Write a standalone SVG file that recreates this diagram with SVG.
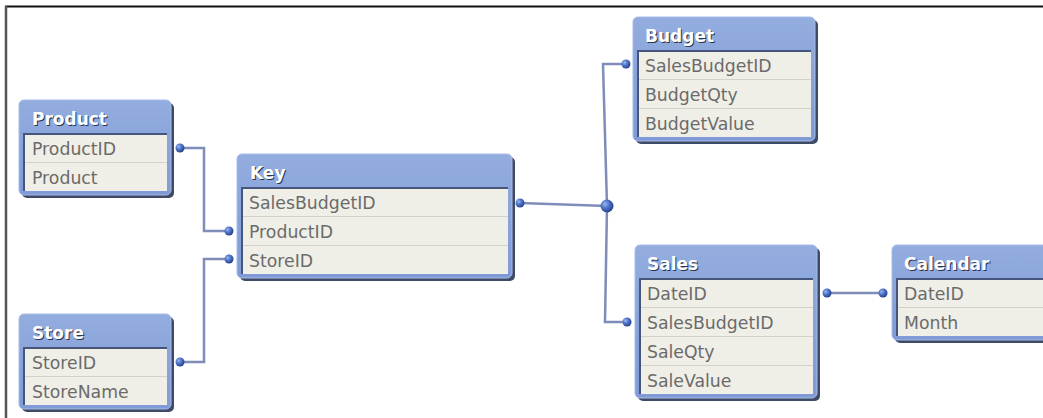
<svg xmlns="http://www.w3.org/2000/svg" width="1043" height="418" viewBox="0 0 1043 418">
<defs>
<linearGradient id="hdr" x1="0" y1="0" x2="0" y2="1">
<stop offset="0" stop-color="#93addf"/>
<stop offset="1" stop-color="#7f9ad6"/>
</linearGradient>
<radialGradient id="ball" cx="0.35" cy="0.35" r="0.7">
<stop offset="0" stop-color="#9db8f0"/>
<stop offset="0.45" stop-color="#4f74c8"/>
<stop offset="1" stop-color="#23408a"/>
</radialGradient>
</defs>
<style>
.sh{fill:#3e4a66}
.main{fill:url(#hdr);stroke:#a7bbe6;stroke-width:1}
.panel{fill:#f0efe7}
.inset{stroke:#45557c;stroke-width:2;fill:none}
.div{stroke:#d2d2ca;stroke-width:1.2}
.hd{font-family:"DejaVu Sans",sans-serif;font-weight:bold;font-size:17px;fill:#ffffff}
.hds{font-family:"DejaVu Sans",sans-serif;font-weight:bold;font-size:17px;fill:#2a3350}
.fd{font-family:"DejaVu Sans",sans-serif;font-size:17.3px;fill:#6b6b6b}
.ln{fill:none;stroke:#7f8db9;stroke-width:2.5}
.dot{fill:url(#ball)}
</style>
<rect width="1043" height="418" fill="#ffffff"/>
<line x1="5" y1="6.5" x2="1043" y2="6.5" stroke="#111" stroke-width="2"/>
<line x1="6" y1="6" x2="6" y2="418" stroke="#555" stroke-width="2.5"/>

<g id="connectors">
<path class="ln" d="M180,148 H204 V231 H229"/>
<path class="ln" d="M180,362 H204 V259 H229"/>
<path class="ln" d="M520,203 L607,206"/>
<path class="ln" d="M607,206 L603,64 H626"/>
<path class="ln" d="M607,206 L605,322 H627"/>
<path class="ln" d="M827,293 H883"/>
<circle class="dot" cx="180" cy="148" r="4.5"/>
<circle class="dot" cx="229" cy="231" r="4.5"/>
<circle class="dot" cx="180" cy="362" r="4.5"/>
<circle class="dot" cx="229" cy="259" r="4.5"/>
<circle class="dot" cx="520" cy="203" r="4.5"/>
<circle class="dot" cx="607" cy="206" r="6.5"/>
<circle class="dot" cx="626" cy="64" r="4.5"/>
<circle class="dot" cx="627" cy="322" r="4.5"/>
<circle class="dot" cx="827" cy="293" r="4.5"/>
<circle class="dot" cx="883" cy="293" r="4.5"/>
</g>

<g id="product">
<rect class="sh" x="22" y="103" width="152" height="95" rx="5"/>
<rect class="main" x="19" y="100" width="152" height="95" rx="5"/>
<rect class="panel" x="23" y="133" width="144" height="58"/>
<path class="inset" d="M24,191 V134 H167"/>
<line class="div" x1="25" y1="162.5" x2="167" y2="162.5"/>
<text class="hds" x="33" y="126">Product</text>
<text class="hd" x="32" y="125">Product</text>
<text class="fd" x="32" y="155">ProductID</text>
<text class="fd" x="32" y="184">Product</text>
</g>

<g id="store">
<rect class="sh" x="22" y="317" width="152" height="95" rx="5"/>
<rect class="main" x="19" y="314" width="152" height="95" rx="5"/>
<rect class="panel" x="23" y="347" width="144" height="58"/>
<path class="inset" d="M24,405 V348 H167"/>
<line class="div" x1="25" y1="376.5" x2="167" y2="376.5"/>
<text class="hds" x="33" y="340">Store</text>
<text class="hd" x="32" y="339">Store</text>
<text class="fd" x="32" y="369">StoreID</text>
<text class="fd" x="32" y="398">StoreName</text>
</g>

<g id="key">
<rect class="sh" x="240" y="157" width="275" height="124" rx="5"/>
<rect class="main" x="237" y="154" width="275" height="124" rx="5"/>
<rect class="panel" x="241" y="187" width="267" height="87"/>
<path class="inset" d="M242,274 V188 H508"/>
<line class="div" x1="243" y1="216.5" x2="508" y2="216.5"/>
<line class="div" x1="243" y1="245.5" x2="508" y2="245.5"/>
<text class="hds" x="251" y="180">Key</text>
<text class="hd" x="250" y="179">Key</text>
<text class="fd" x="249" y="209">SalesBudgetID</text>
<text class="fd" x="249" y="238">ProductID</text>
<text class="fd" x="249" y="267">StoreID</text>
</g>

<g id="budget">
<rect class="sh" x="636" y="20" width="182" height="124" rx="5"/>
<rect class="main" x="633" y="17" width="182" height="124" rx="5"/>
<rect class="panel" x="637" y="50" width="174" height="87"/>
<path class="inset" d="M638,137 V51 H811"/>
<line class="div" x1="639" y1="79.5" x2="811" y2="79.5"/>
<line class="div" x1="639" y1="108.5" x2="811" y2="108.5"/>
<text class="hds" x="646" y="43">Budget</text>
<text class="hd" x="645" y="42">Budget</text>
<text class="fd" x="645" y="72">SalesBudgetID</text>
<text class="fd" x="645" y="101">BudgetQty</text>
<text class="fd" x="645" y="130">BudgetValue</text>
</g>

<g id="sales">
<rect class="sh" x="638" y="248" width="182" height="153" rx="5"/>
<rect class="main" x="635" y="245" width="182" height="153" rx="5"/>
<rect class="panel" x="639" y="278" width="174" height="116"/>
<path class="inset" d="M640,394 V279 H813"/>
<line class="div" x1="641" y1="307.5" x2="813" y2="307.5"/>
<line class="div" x1="641" y1="336.5" x2="813" y2="336.5"/>
<line class="div" x1="641" y1="365.5" x2="813" y2="365.5"/>
<text class="hds" x="648" y="271">Sales</text>
<text class="hd" x="647" y="270">Sales</text>
<text class="fd" x="647" y="300">DateID</text>
<text class="fd" x="647" y="329">SalesBudgetID</text>
<text class="fd" x="647" y="358">SaleQty</text>
<text class="fd" x="647" y="387">SaleValue</text>
</g>

<g id="calendar">
<rect class="sh" x="895" y="248" width="200" height="95" rx="5"/>
<rect class="main" x="892" y="245" width="200" height="95" rx="5"/>
<rect class="panel" x="896" y="278" width="192" height="58"/>
<path class="inset" d="M897,336 V279 H1088"/>
<line class="div" x1="898" y1="307.5" x2="1088" y2="307.5"/>
<text class="hds" x="905" y="271">Calendar</text>
<text class="hd" x="904" y="270">Calendar</text>
<text class="fd" x="904" y="300">DateID</text>
<text class="fd" x="904" y="329">Month</text>
</g>
</svg>
